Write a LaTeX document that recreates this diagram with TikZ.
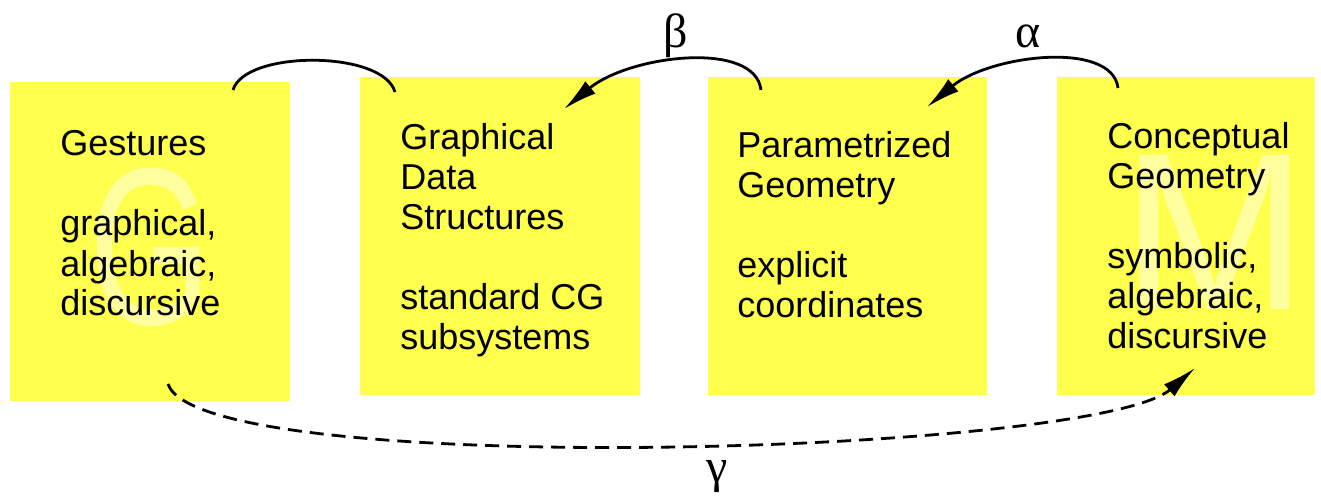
\documentclass[tikz,border=0pt]{standalone}
\usepackage{fontspec}
\setmainfont{Liberation Sans}
\newfontfamily\greekfont{Liberation Serif}
\usetikzlibrary{arrows.meta}

\definecolor{boxyellow}{RGB}{255,255,77}
\definecolor{ghostyellow}{RGB}{255,255,160}

\begin{document}
\begin{tikzpicture}[x=0.5pt, y=-0.5pt,
    panel/.style={fill=boxyellow, draw=none, inner sep=0pt, anchor=north west},
    boxtext/.style={anchor=base west, align=left, inner sep=0pt,
        font=\fontsize{18}{20}\selectfont},
    ghost/.style={text=ghostyellow, inner sep=0pt,
        font=\fontsize{112}{112}\selectfont},
    greek/.style={anchor=base, inner sep=0pt,
        font=\greekfont\fontsize{24}{24}\selectfont},
    link/.style={line width=1.4pt, black},
    tip/.style={-{Latex[length=17pt, width=8pt]}}]
    \useasboundingbox (0,0) rectangle (1321,496);

    % --- 1. the four yellow panels ---
    \node[panel, minimum width=140pt, minimum height=159.5pt] (b1) at (10,82) {};
    \node[panel, minimum width=140pt, minimum height=159pt] (b2) at (360,77) {};
    \node[panel, minimum width=139.5pt, minimum height=159pt] (b3) at (708,77) {};
    \node[panel, minimum width=129pt, minimum height=159pt] (b4) at (1057,77) {};

    % --- 2. pale letters behind the text ---
    \node[ghost, xscale=0.7] (gG) at (150,247) {G};
    \node[ghost] (gM) at (1215,232) {M};

    % --- 3. panel texts (placed at the baseline of the last line) ---
    \node[boxtext] (t1) at (60,316)
        {Gestures\\[20pt]graphical,\\algebraic,\\discursive};
    \node[boxtext] (t2) at (400,350)
        {Graphical\\Data\\Structures\\[20pt]standard CG\\subsystems};
    \node[boxtext] (t3) at (737,318)
        {Parametrized\\Geometry\\[20pt]explicit\\coordinates};
    \node[boxtext] (t4) at (1107,349)
        {Conceptual\\Geometry\\[20pt]symbolic,\\algebraic,\\discursive};

    % --- 4. end points of the links ---
    \coordinate (a1) at (233,90);
    \coordinate (a2) at (395,92);
    \coordinate (p1) at (761,90);
    \coordinate (p2) at (564,109);
    \coordinate (q1) at (1118,88);
    \coordinate (q2) at (927,107);
    \coordinate (r1) at (168,384);
    \coordinate (r2) at (1195,368);

    % --- 5. links and their labels ---
    \draw[link] (a1) .. controls (245,50) and (383,50) .. (a2);
    \draw[link, tip] (p1) .. controls (755,40) and (630,55) .. (p2);
    \draw[link, tip] (q1) .. controls (1112,40) and (990,55) .. (q2);
    \draw[link, tip, dash pattern=on 7pt off 4pt]
        (r1) .. controls (200,480) and (1095,455) .. (r2);

    \node[greek] (beta) at (676,48) {β};
    \node[greek] (alpha) at (1028,48) {α};
    \node[greek] (gamma) at (717,482) {γ};
\end{tikzpicture}
\end{document}
